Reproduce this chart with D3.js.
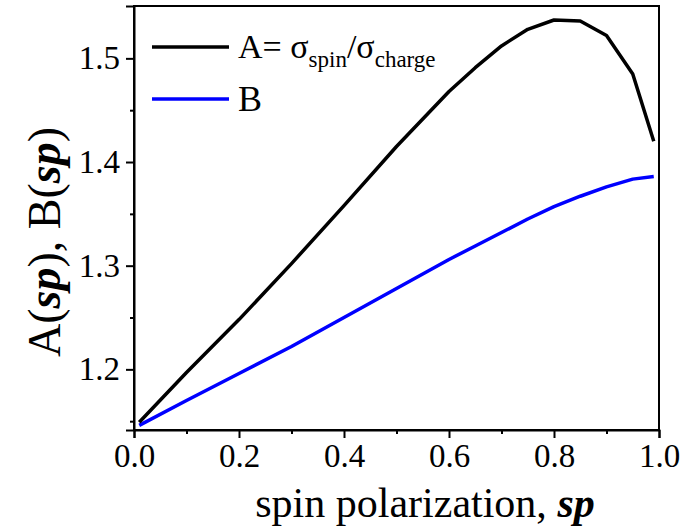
<!DOCTYPE html>
<html>
<head>
<meta charset="utf-8">
<script src="https://cdn.jsdelivr.net/npm/d3@7"></script>
<style>
  body { margin: 0; background: #fff; }
  svg text { font-family: "Liberation Serif", "Times New Roman", Times, Tinos, "DejaVu Serif", serif; }
</style>
</head>
<body>
<svg id="chart" width="684" height="531"></svg>
<script>
"use strict";
// values
var spValues = [0.01, 0.1, 0.2, 0.3, 0.4, 0.5, 0.6, 0.65, 0.7, 0.75, 0.8, 0.85, 0.9, 0.95, 0.99];
var aValues  = [1.149, 1.197, 1.248, 1.302, 1.358, 1.415, 1.468, 1.491, 1.512, 1.528, 1.537, 1.536, 1.522, 1.485, 1.420];
var bValues  = [1.146, 1.170, 1.196, 1.222, 1.250, 1.278, 1.306, 1.319, 1.332, 1.345, 1.357, 1.367, 1.376, 1.3835, 1.386];
var xTicks = [0.0, 0.2, 0.4, 0.6, 0.8, 1.0];
var xMinor = [0.1, 0.3, 0.5, 0.7, 0.9];
var yTicks = [1.2, 1.3, 1.4, 1.5];
var yMinor = [1.15, 1.25, 1.35, 1.45];

var serif = '"Liberation Serif", "Times New Roman", Times, Tinos, "DejaVu Serif", serif';

var svg = d3.select("#chart").attr("font-family", serif);
var plotLeft = 134, plotRight = 659, plotTop = 6, plotBottom = 430;

var x = d3.scaleLinear().domain([0, 1]).range([plotLeft, plotRight]);
var y = d3.scaleLinear().domain([1.1415, 1.5505]).range([plotBottom, plotTop]);

// frame
svg.append("rect")
    .attr("x", plotLeft).attr("y", plotTop)
    .attr("width", plotRight - plotLeft).attr("height", plotBottom - plotTop)
    .style("fill", "none").style("stroke", "black").style("stroke-width", 2);

// x axis
svg.append("g").attr("transform", "translate(0," + plotBottom + ")")
    .call(d3.axisBottom(x).tickValues(xTicks).tickSize(8).tickPadding(6).tickFormat(d3.format(".1f")));
svg.append("g").attr("transform", "translate(0," + plotBottom + ")")
    .call(d3.axisBottom(x).tickValues(xMinor).tickSize(4).tickFormat(""))
    .select(".domain").remove();

// y axis
svg.append("g").attr("transform", "translate(" + plotLeft + ",0)")
    .call(d3.axisLeft(y).tickValues(yTicks).tickSize(8).tickPadding(6).tickFormat(d3.format(".1f")));
svg.append("g").attr("transform", "translate(" + plotLeft + ",0)")
    .call(d3.axisLeft(y).tickValues(yMinor).tickSize(4).tickFormat(""))
    .select(".domain").remove();

svg.selectAll("g").attr("font-family", serif);
svg.selectAll(".domain").style("stroke-width", 2);
svg.selectAll(".tick line").style("stroke-width", 2);
svg.selectAll(".tick text")
    .style("font-family", serif)
    .style("font-size", "33px")
    .style("fill", "black");

// lines
var line = d3.line()
    .x(function (d) { return x(d[0]); })
    .y(function (d) { return y(d[1]); });

svg.append("path")
    .datum(d3.zip(spValues, bValues))
    .attr("d", line)
    .style("fill", "none").style("stroke", "#0000ff").style("stroke-width", 3.5)
    .style("stroke-linejoin", "round");

svg.append("path")
    .datum(d3.zip(spValues, aValues))
    .attr("d", line)
    .style("fill", "none").style("stroke", "black").style("stroke-width", 3.5)
    .style("stroke-linejoin", "round");

// legend
var legend = svg.append("g");
legend.append("line").attr("x1", 152).attr("x2", 229).attr("y1", 47).attr("y2", 47)
    .style("stroke", "black").style("stroke-width", 3.5);
legend.append("line").attr("x1", 152).attr("x2", 229).attr("y1", 99).attr("y2", 99)
    .style("stroke", "#0000ff").style("stroke-width", 3.5);

var la = legend.append("text").attr("x", 238).attr("y", 58)
    .style("font-family", serif).style("font-size", "34px");
la.append("tspan").text("A= σ");
la.append("tspan").attr("dy", 9).style("font-size", "23px").text("spin");
la.append("tspan").attr("dy", -9).text("/σ");
la.append("tspan").attr("dy", 9).style("font-size", "23px").text("charge");

legend.append("text").attr("x", 238).attr("y", 111)
    .style("font-family", serif).style("font-size", "36px").text("B");

// axis titles
var xt = svg.append("text").attr("x", 425).attr("y", 517)
    .attr("text-anchor", "middle").style("font-family", serif).style("font-size", "42px");
xt.append("tspan").text("spin polarization, ");
xt.append("tspan").style("font-weight", "bold").style("font-style", "italic").text("sp");

var yt = svg.append("text")
    .attr("transform", "translate(60," + 242 + ") rotate(-90)")
    .attr("text-anchor", "middle").style("font-family", serif).style("font-size", "46px");
yt.append("tspan").text("A(");
yt.append("tspan").style("font-weight", "bold").style("font-style", "italic").text("sp");
yt.append("tspan").text("), B(");
yt.append("tspan").style("font-weight", "bold").style("font-style", "italic").text("sp");
yt.append("tspan").text(")");
</script>
</body>
</html>
